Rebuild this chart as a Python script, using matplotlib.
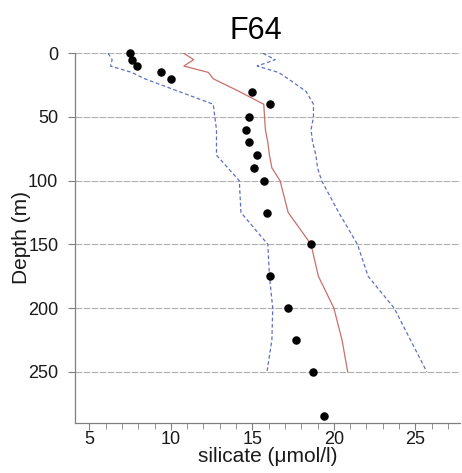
import matplotlib
matplotlib.use("Agg")
import matplotlib.pyplot as plt
from matplotlib.ticker import MultipleLocator

plt.rcParams['font.family'] = ['Liberation Sans', 'DejaVu Sans']

# observed profile
depth_obs = [0, 5, 10, 15, 20, 30, 40, 50, 60, 70, 80, 90, 100, 125, 150, 175, 200, 225, 250, 285]
sil_obs = [7.5, 7.6, 7.9, 9.4, 10.0, 15.0, 16.1, 14.8, 14.6, 14.8, 15.3, 15.1, 15.7, 15.9, 18.6, 16.1, 17.2, 17.7, 18.7, 19.4]

# climatology
depth_clim = [0, 5, 10, 15, 20, 30, 40, 50, 60, 70, 80, 90, 100, 125, 150, 175, 200, 225, 250]
sil_mean = [10.8, 11.4, 10.8, 12.3, 12.6, 14.2, 15.7, 15.75, 15.8, 15.95, 16.05, 16.2, 16.7, 17.2, 18.6, 19.05, 20.0, 20.5, 20.85]
sil_lower = [6.15, 6.4, 6.3, 7.6, 8.4, 10.5, 12.6, 12.7, 12.8, 12.8, 12.8, 13.5, 14.2, 14.3, 15.95, 16.05, 16.25, 16.2, 15.9]
sil_upper = [15.65, 16.4, 15.3, 16.6, 17.2, 18.3, 18.75, 18.75, 18.6, 18.7, 18.9, 19.0, 19.25, 20.3, 21.45, 22.1, 23.7, 24.7, 25.7]

title = "F64"
xlabel = "silicate (μmol/l)"
ylabel = "Depth (m)"
yticks = [0, 50, 100, 150, 200, 250]
xticks = [5, 10, 15, 20, 25]

W, H = 462, 473
fig = plt.figure(figsize=(W / 100, H / 100), dpi=100)
ax = fig.add_axes([75 / W, 1 - 422.7 / H, (460 - 75) / W, (422.7 - 53.3) / H])

for y in yticks:
    ax.axhline(y, color='#b0b0b0', lw=0.8, ls=(0, (6, 1.2)), zorder=1)

ax.plot(sil_lower, depth_clim, color='#6070c0', lw=0.9, ls=(0, (3, 2)), zorder=2)
ax.plot(sil_upper, depth_clim, color='#6070c0', lw=0.9, ls=(0, (3, 2)), zorder=2)
ax.plot(sil_mean, depth_clim, color='#c8706a', lw=0.9, zorder=3)
ax.scatter(sil_obs, depth_obs, s=26, color='black', zorder=4, clip_on=False)

ax.set_xlim(4.12, 27.74)
ax.set_ylim(290, 0)
ax.set_xticks(xticks)
ax.set_yticks(yticks)
ax.xaxis.set_minor_locator(MultipleLocator(1))

for s in ['top', 'right']:
    ax.spines[s].set_visible(False)
for s in ['left', 'bottom']:
    ax.spines[s].set_color('#808080')
    ax.spines[s].set_linewidth(0.9)

ax.tick_params(axis='both', which='both', colors='#808080', labelcolor='#1a1a1a', labelsize=13)
ax.tick_params(axis='y', which='major', length=5, pad=7)
ax.tick_params(axis='x', which='major', length=5, pad=1)
ax.tick_params(axis='x', which='minor', length=4)

ax.set_xlabel(xlabel, fontsize=15, color='#1a1a1a', labelpad=-0.5)
ax.set_ylabel(ylabel, fontsize=15, color='#1a1a1a', labelpad=-2)

fig.text(256 / W, 1 - 39 / H, title, fontsize=22, ha='center', va='baseline', color='black')

fig.savefig("out.png", dpi=100)
